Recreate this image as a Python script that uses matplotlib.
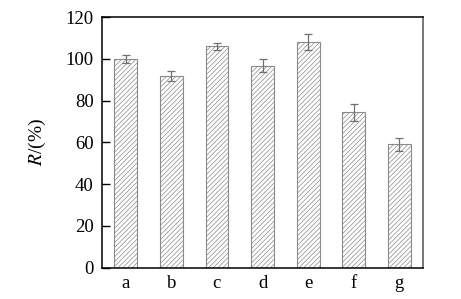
import matplotlib
matplotlib.use("Agg")
import matplotlib.pyplot as plt
import numpy as np

categories = ["a", "b", "c", "d", "e", "f", "g"]
values = [99.8, 91.9, 105.9, 96.8, 107.9, 74.3, 59.0]
errors = [1.8, 2.4, 1.7, 3.3, 3.9, 4.0, 3.3]
yticks = [0, 20, 40, 60, 80, 100, 120]

plt.rcParams['font.family'] = ['Liberation Serif', 'DejaVu Serif']
plt.rcParams['mathtext.fontset'] = 'stix'
plt.rcParams['hatch.color'] = '#a8a8a8'
plt.rcParams['hatch.linewidth'] = 0.5

fig = plt.figure(figsize=(4.61, 2.99), dpi=100)
ax = fig.add_axes([0.2213, 0.1047, 0.9176 - 0.2213, 0.943 - 0.1047])

x = np.arange(len(categories))
ax.bar(x, values, width=0.5, color='white', edgecolor='#8a8a8a', linewidth=0.8,
       hatch='///////', zorder=2)
ax.errorbar(x, values, yerr=errors, fmt='none', ecolor='#707070', elinewidth=0.9,
            capsize=3, capthick=0.9, zorder=3)

ax.set_xlim(-0.52, 6.52)
ax.set_ylim(0, 120)
ax.set_yticks(yticks)
ax.set_xticks(x)
ax.set_xticklabels(categories)
ax.tick_params(axis='y', direction='in', length=5.5, width=1.0, pad=6, labelsize=13.5)
ax.tick_params(axis='x', length=0, pad=5, labelsize=13.5)

for s in ['left', 'bottom', 'top']:
    ax.spines[s].set_linewidth(1.1)
    ax.spines[s].set_color('black')
ax.spines['right'].set_linewidth(1.2)
ax.spines['right'].set_color('#606060')

ax.set_ylabel(r'$R$/(%)', fontsize=14, labelpad=13)

fig.savefig("out.png", dpi=100)
